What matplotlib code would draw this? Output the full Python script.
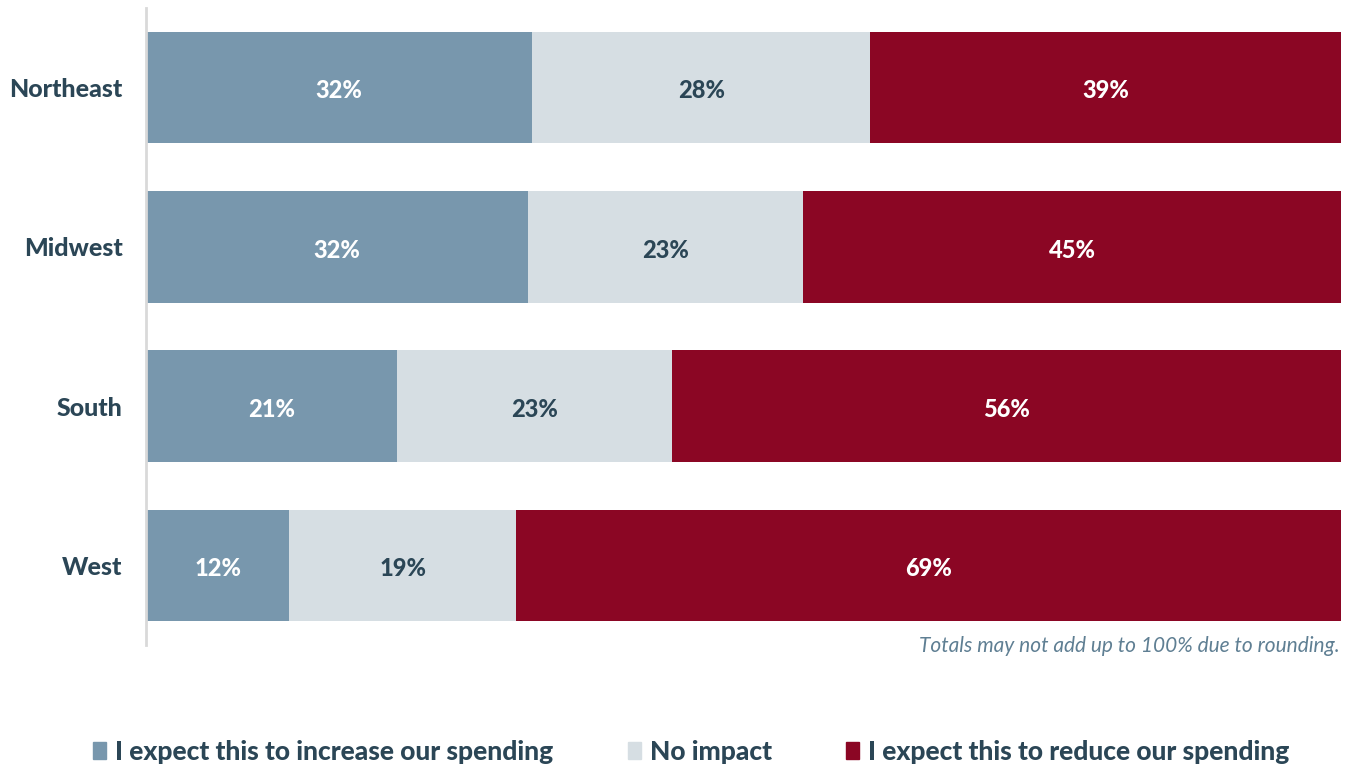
import matplotlib
matplotlib.use('Agg')
import matplotlib.pyplot as plt
from matplotlib.patches import Patch
import numpy as np

REGIONS = ['Northeast', 'Midwest', 'South', 'West']
SERIES = ['I expect this to increase our spending', 'No impact',
          'I expect this to reduce our spending']
INCREASE = [32, 32, 21, 12]
NO_IMPACT = [28, 23, 23, 19]
REDUCE = [39, 45, 56, 69]
NOTE = 'Totals may not add up to 100% due to rounding.'

COLORS = ['#7897ad', '#d6dee3', '#8b0624']
LABEL_COLORS = ['white', '#2b4656', 'white']
TEXT = '#2b4656'

plt.rcParams['font.family'] = ['Lato', 'DejaVu Sans']

fig = plt.figure(figsize=(13.45, 7.67), dpi=100)
ax = fig.add_axes([146 / 1345, 1 - 645 / 767, 1195 / 1345, 637 / 767])

values = np.array([INCREASE, NO_IMPACT, REDUCE], dtype=float)
# bars are scaled to fill the row even when rounding leaves 99%
shares = values / values.sum(axis=0) * 100
y = np.arange(len(REGIONS))
left = np.zeros(len(REGIONS))
for i in range(len(SERIES)):
    ax.barh(y, shares[i], left=left, height=0.7, color=COLORS[i], label=SERIES[i])
    for j in range(len(REGIONS)):
        ax.text(left[j] + shares[i][j] / 2, y[j] + 0.02, f'{int(values[i][j])}%',
                ha='center', va='center', fontsize=17, fontweight='black',
                color=LABEL_COLORS[i])
    left += shares[i]

ax.set_xlim(0, 100)
ax.set_ylim(3.5, -0.5)
ax.set_yticks(y)
ax.set_yticklabels(REGIONS, fontsize=18, fontweight='black', color=TEXT)
ax.tick_params(axis='y', length=0, pad=17)
ax.set_xticks([])
for s in ['top', 'right', 'bottom']:
    ax.spines[s].set_visible(False)
ax.spines['left'].set_color('#d9d9d9')
ax.spines['left'].set_linewidth(2)

fig.text(1340 / 1345, 1 - 646 / 767, NOTE, ha='right', va='center',
         fontsize=15, style='italic', color='#5f7f93')

handles = [Patch(color=c) for c in COLORS]
fig.legend(handles, SERIES, loc='center', bbox_to_anchor=(0.514, 1 - 752 / 767),
           ncol=3, frameon=False, handlelength=0.5, handleheight=0.6,
           handletextpad=0.35, columnspacing=2.8,
           prop={'size': 19, 'weight': 'black'}, labelcolor=TEXT)

fig.savefig('out.png', dpi=100)
